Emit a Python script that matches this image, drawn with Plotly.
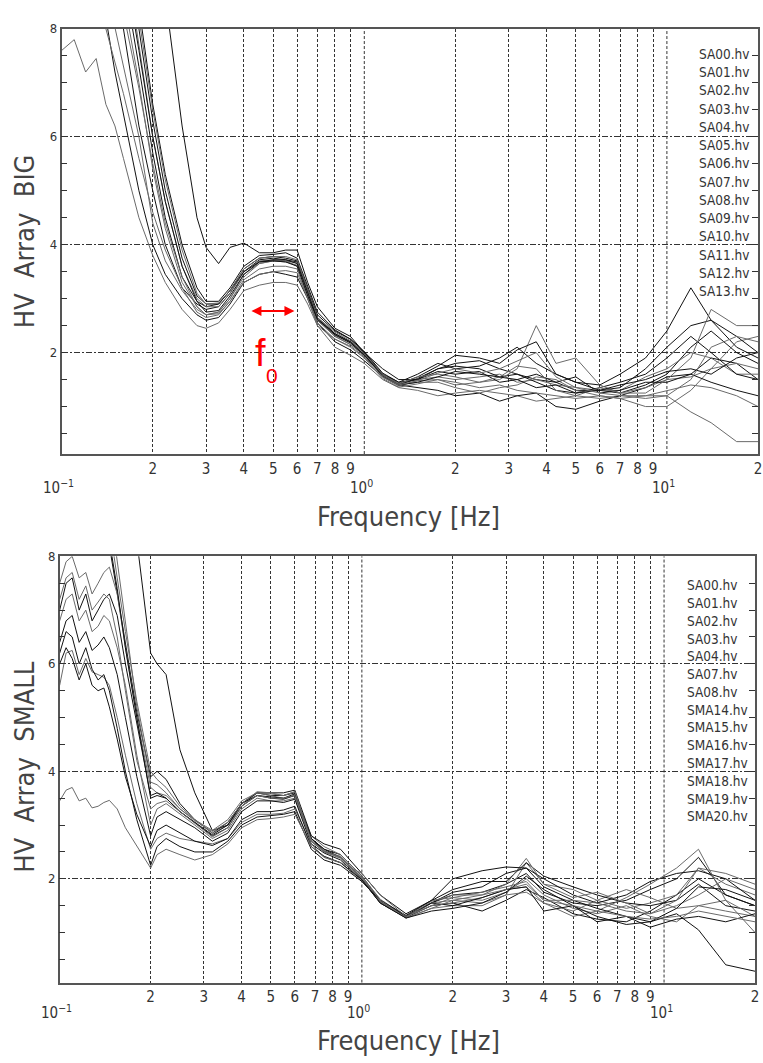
import math
import plotly.graph_objects as go

# ---------------- data: top panel (HV Array BIG) ----------------
FREQ_BIG = [0.1, 0.11, 0.12, 0.13, 0.14, 0.15, 0.16, 0.18, 0.2, 0.22,
            0.25, 0.28, 0.3, 0.33, 0.36, 0.4, 0.45, 0.5, 0.55, 0.6,
            0.65, 0.7, 0.8, 0.9, 1.0, 1.15, 1.3, 1.5, 1.75, 2.0,
            2.4, 2.8, 3.2, 3.7, 4.3, 5.0, 6.0, 7.0, 8.5, 10,
            12, 14, 17, 20]

BIG_SA00 = [14, 14, 14, 13.5, 13, 12.5, 12, 11, 9.8, 8.6,
            6.2, 4.5, 3.95, 3.65, 3.95, 4.03, 3.85, 3.85, 3.9, 3.9,
            3.3, 2.85, 2.45, 2.3, 2.0, 1.7, 1.5, 1.5, 1.7, 1.8,
            1.85, 1.7, 1.6, 1.5, 1.45, 1.3, 1.3, 1.25, 1.4, 1.6,
            2.1, 2.4, 2.0, 1.8]
BIG_SA01 = [7.6, 7.8, 7.2, 7.45, 6.6, 6.2, 5.6, 4.5, 3.8, 3.3,
            2.8, 2.5, 2.45, 2.55, 2.8, 3.15, 3.25, 3.3, 3.3, 3.25,
            2.9, 2.5, 2.1, 1.95, 1.8, 1.5, 1.35, 1.3, 1.2, 1.25,
            1.3, 1.25, 1.2, 1.1, 1.15, 1.2, 1.15, 1.2, 1.2, 1.2,
            0.9, 0.7, 0.35, 0.35]
BIG_SA02 = [12, 11, 10, 9.0, 8.2, 7.2, 6.4, 5.0, 4.0, 3.45,
            3.0, 2.7, 2.6, 2.65, 2.9, 3.3, 3.45, 3.5, 3.45, 3.4,
            3.0, 2.55, 2.2, 2.05, 1.85, 1.55, 1.4, 1.35, 1.3, 1.2,
            1.25, 1.1, 1.2, 1.25, 1.0, 0.95, 1.1, 1.2, 1.35, 1.55,
            1.6, 1.9, 1.8, 1.5]
BIG_SA03 = [12, 11.5, 10.5, 9.6, 8.8, 8.0, 7.3, 6.0, 4.4, 3.7,
            3.15, 2.8, 2.7, 2.75, 3.0, 3.45, 3.65, 3.7, 3.7, 3.6,
            3.05, 2.6, 2.3, 2.15, 1.95, 1.6, 1.42, 1.5, 1.55, 1.5,
            1.55, 1.6, 1.45, 1.5, 1.4, 1.35, 1.3, 1.3, 1.55, 1.7,
            2.0, 1.9, 1.6, 1.6]
BIG_SA04 = [13, 12.5, 11.5, 10.5, 9.6, 8.8, 8.0, 6.2, 5.0, 4.0,
            3.2, 2.9, 2.8, 2.85, 3.1, 3.5, 3.72, 3.75, 3.72, 3.68,
            3.15, 2.65, 2.35, 2.2, 2.0, 1.58, 1.4, 1.52, 1.7, 1.75,
            1.7, 1.55, 1.6, 1.45, 1.3, 1.25, 1.35, 1.45, 1.6, 1.9,
            2.3, 2.0, 1.6, 1.5]
BIG_SA05 = [13, 13, 12, 11, 10.2, 9.4, 8.6, 7.0, 5.4, 4.3,
            3.3, 2.85, 2.7, 2.75, 3.0, 3.4, 3.65, 3.7, 3.68, 3.62,
            3.05, 2.6, 2.32, 2.18, 1.97, 1.55, 1.38, 1.48, 1.5, 1.4,
            1.45, 1.5, 1.7, 2.5, 1.8, 1.9, 1.4, 1.25, 1.35, 1.5,
            1.55, 1.7, 2.2, 2.3]
BIG_SA06 = [14, 13.5, 12.5, 11.5, 10.6, 9.8, 9.0, 7.3, 5.7, 4.5,
            3.4, 2.95, 2.85, 2.9, 3.15, 3.55, 3.75, 3.78, 3.75, 3.7,
            3.2, 2.7, 2.4, 2.25, 2.0, 1.6, 1.42, 1.55, 1.75, 1.95,
            1.9, 1.8, 2.05, 2.2, 1.6, 1.45, 1.3, 1.35, 1.7, 2.1,
            2.5, 2.6, 2.3, 2.0]
BIG_SA07 = [14, 14, 13, 12, 11.2, 10.4, 9.6, 7.7, 6.0, 4.8,
            3.6, 3.0, 2.85, 2.85, 3.1, 3.5, 3.7, 3.72, 3.7, 3.66,
            3.1, 2.6, 2.3, 2.15, 1.95, 1.58, 1.4, 1.45, 1.45, 1.35,
            1.25, 1.35, 1.4, 1.55, 1.5, 1.3, 1.2, 1.15, 1.0, 1.0,
            1.3, 1.7, 1.8, 1.7]
BIG_SA08 = [15, 14.5, 13.5, 12.5, 11.6, 10.8, 10.0, 8.0, 6.3, 5.0,
            3.75, 3.05, 2.9, 2.9, 3.15, 3.5, 3.68, 3.7, 3.68, 3.6,
            3.05, 2.62, 2.35, 2.2, 1.95, 1.6, 1.45, 1.5, 1.65, 1.6,
            1.65, 1.45, 1.5, 1.6, 1.45, 1.55, 1.25, 1.3, 1.45, 1.45,
            1.6, 1.45, 1.3, 1.2]
BIG_SA09 = [11, 10.5, 9.6, 8.8, 8.0, 7.4, 6.8, 5.6, 4.6, 3.9,
            3.2, 2.75, 2.65, 2.7, 2.95, 3.35, 3.55, 3.6, 3.6, 3.55,
            3.0, 2.55, 2.25, 2.1, 1.9, 1.52, 1.36, 1.42, 1.5, 1.45,
            1.35, 1.4, 1.3, 1.25, 1.2, 1.15, 1.2, 1.15, 1.2, 1.3,
            1.4, 1.35, 1.2, 1.0]
BIG_SA10 = [15, 15, 14, 13, 12, 11.2, 10.4, 8.4, 6.6, 5.3,
            4.0, 3.2, 2.95, 2.95, 3.2, 3.6, 3.8, 3.82, 3.85, 3.75,
            3.25, 2.75, 2.42, 2.25, 2.02, 1.62, 1.45, 1.6, 1.8, 1.7,
            1.75, 1.9, 2.1, 1.8, 1.6, 1.45, 1.4, 1.6, 1.9, 2.4,
            3.2, 2.6, 2.1, 1.9]
BIG_SA11 = [14, 13.5, 12.8, 12, 11.3, 10.6, 9.9, 8.2, 6.5, 5.2,
            3.9, 3.1, 2.9, 2.92, 3.15, 3.55, 3.75, 3.78, 3.78, 3.72,
            3.15, 2.65, 2.38, 2.22, 1.98, 1.6, 1.42, 1.55, 1.6, 1.55,
            1.45, 1.55, 1.75, 1.7, 1.3, 1.2, 1.35, 1.25, 1.25, 1.5,
            1.9, 2.8, 2.5, 2.5]
BIG_SA12 = [13.5, 13, 12.3, 11.6, 10.8, 10.0, 9.3, 7.6, 6.0, 4.8,
            3.6, 2.95, 2.75, 2.78, 3.05, 3.45, 3.68, 3.72, 3.72, 3.65,
            3.1, 2.62, 2.33, 2.18, 1.96, 1.56, 1.4, 1.45, 1.55, 1.65,
            1.6, 1.55, 1.5, 1.35, 1.4, 1.25, 1.3, 1.4, 1.5, 1.65,
            1.7, 1.6, 1.9, 2.0]
BIG_SA13 = [12.5, 12, 11.2, 10.5, 9.8, 9.0, 8.3, 6.9, 5.5, 4.4,
            3.4, 2.85, 2.7, 2.72, 2.95, 3.3, 3.45, 3.5, 3.52, 3.48,
            3.0, 2.5, 2.25, 2.12, 1.92, 1.55, 1.4, 1.48, 1.62, 1.7,
            1.62, 1.7, 1.85, 2.0, 1.55, 1.35, 1.25, 1.2, 1.15, 1.2,
            1.5, 2.1, 2.3, 2.2]

NAMES_BIG = ["SA00.hv", "SA01.hv", "SA02.hv", "SA03.hv", "SA04.hv", "SA05.hv", "SA06.hv",
             "SA07.hv", "SA08.hv", "SA09.hv", "SA10.hv", "SA11.hv", "SA12.hv", "SA13.hv"]

# ---------------- data: bottom panel (HV Array SMALL) ----------------
FREQ_SMALL = [0.1, 0.105, 0.11, 0.116, 0.122, 0.128, 0.134, 0.14, 0.146, 0.155,
              0.165, 0.18, 0.2, 0.21, 0.225, 0.25, 0.28, 0.32, 0.36, 0.4,
              0.45, 0.5, 0.55, 0.6, 0.68, 0.75, 0.85, 1.0, 1.15, 1.4,
              1.7, 2.0, 2.5, 3.0, 3.5, 4.0, 5.0, 6.0, 7.5, 9.0,
              11, 13, 16, 20]

SMALL_SA00 = [9.0, 9.5, 9.6, 9.2, 9.4, 9.0, 9.2, 8.8, 8.2, 7.3,
              6.35, 5.1, 3.9, 4.0, 3.85, 3.4, 3.1, 2.85, 3.05, 3.4,
              3.6, 3.55, 3.55, 3.6, 2.75, 2.55, 2.45, 2.05, 1.6, 1.3,
              1.55, 1.7, 1.75, 1.9, 2.1, 1.75, 1.55, 1.5, 1.6, 1.8,
              2.0, 2.4, 1.7, 1.5]
SMALL_SA01 = [7.5, 7.9, 8.0, 7.6, 7.7, 7.3, 7.5, 7.7, 7.8, 7.3,
              6.3, 5.0, 3.7, 3.6, 3.55, 3.3, 3.1, 2.85, 3.0, 3.35,
              3.6, 3.55, 3.5, 3.55, 2.8, 2.6, 2.45, 2.05, 1.62, 1.3,
              1.6, 1.65, 1.6, 1.75, 2.0, 1.7, 1.45, 1.35, 1.5, 1.3,
              1.2, 1.5, 1.6, 1.0]
SMALL_SA02 = [7.0, 7.5, 7.6, 7.0, 7.3, 6.8, 7.0, 7.2, 7.3, 6.9,
              6.0, 4.9, 3.55, 3.6, 3.5, 3.25, 3.05, 2.8, 2.95, 3.35,
              3.55, 3.5, 3.48, 3.55, 2.75, 2.55, 2.4, 2.0, 1.58, 1.28,
              1.5, 1.55, 1.4, 1.6, 1.8, 1.65, 1.35, 1.25, 1.2, 1.4,
              1.7, 2.0, 1.7, 1.5]
SMALL_SA03 = [6.8, 7.2, 7.3, 6.8, 7.0, 6.6, 6.7, 6.9, 6.8, 6.3,
              5.6, 4.3, 3.0, 3.3, 3.4, 3.2, 3.0, 2.75, 2.9, 3.3,
              3.5, 3.45, 3.45, 3.5, 2.7, 2.5, 2.38, 2.0, 1.55, 1.27,
              1.45, 1.5, 1.5, 1.7, 2.3, 1.9, 1.8, 1.6, 1.45, 1.55,
              1.7, 2.2, 1.9, 1.7]
SMALL_SA04 = [6.4, 6.8, 6.9, 6.4, 6.6, 6.25, 6.35, 6.5, 6.3, 5.8,
              5.0, 3.9, 2.8, 3.15, 3.25, 3.1, 2.95, 2.7, 2.85, 3.25,
              3.45, 3.45, 3.42, 3.48, 2.65, 2.48, 2.35, 1.98, 1.55, 1.28,
              1.55, 1.75, 1.85, 2.1, 2.2, 2.0, 1.7, 1.55, 1.7, 1.95,
              2.1, 2.15, 2.0, 1.6]
SMALL_SA07 = [5.6, 6.2, 6.25, 5.8, 6.1, 5.85, 5.8, 5.75, 5.6, 5.0,
              4.3, 3.4, 2.55, 2.75, 2.85, 2.75, 2.7, 2.65, 2.75, 3.05,
              3.2, 3.2, 3.22, 3.3, 2.65, 2.4, 2.3, 1.95, 1.6, 1.3,
              1.5, 1.55, 1.65, 1.8, 1.85, 1.55, 1.4, 1.6, 1.8, 1.65,
              1.45, 1.5, 1.4, 1.3]
SMALL_SA08 = [10, 10.5, 10.6, 10.2, 10.4, 10, 10.1, 10, 9.8, 9.5,
              9.0, 8.3, 6.2, 6.0, 5.8, 4.4, 3.6, 2.9, 3.0, 3.4,
              3.6, 3.6, 3.6, 3.65, 2.8, 2.65, 2.55, 2.1, 1.7, 1.35,
              1.6, 1.8, 1.95, 1.95, 2.3, 2.05, 1.85, 1.7, 1.55, 1.5,
              1.6, 1.9, 1.5, 1.4]
SMALL_SMA14 = [11, 11.5, 11.6, 11.2, 11.4, 11, 10.5, 9.7, 8.6, 7.6,
               6.6, 5.3, 4.0, 3.85, 3.7, 3.35, 3.1, 2.9, 3.1, 3.45,
               3.6, 3.58, 3.55, 3.62, 2.7, 2.5, 2.42, 2.02, 1.58, 1.28,
               1.55, 1.6, 1.55, 1.7, 1.75, 1.55, 1.3, 1.4, 1.65, 1.9,
               2.2, 2.55, 1.6, 1.3]
SMALL_SMA15 = [10, 10.4, 10.5, 10.1, 10.2, 9.9, 9.7, 9.1, 8.3, 7.4,
               6.3, 5.0, 3.5, 3.55, 3.5, 3.25, 3.05, 2.82, 3.0, 3.4,
               3.55, 3.52, 3.5, 3.58, 2.75, 2.52, 2.4, 2.0, 1.6, 1.3,
               1.55, 1.5, 1.65, 1.8, 1.85, 1.4, 1.5, 1.2, 1.3, 1.1,
               1.25, 1.3, 1.2, 1.35]
SMALL_SMA16 = [7.2, 7.6, 7.7, 7.2, 7.45, 7.0, 7.15, 7.3, 7.2, 6.5,
               5.5, 4.2, 3.3, 3.4, 3.45, 3.25, 3.05, 2.78, 2.95, 3.35,
               3.55, 3.5, 3.5, 3.55, 2.7, 2.5, 2.4, 2.0, 1.57, 1.27,
               1.45, 1.6, 1.7, 1.9, 2.38, 1.9, 1.65, 1.75, 1.55, 1.35,
               1.5, 1.7, 2.0, 1.8]
SMALL_SMA17 = [6.2, 6.6, 6.5, 6.0, 6.3, 5.9, 5.7, 5.8, 5.5, 4.8,
               4.0, 3.1, 2.25, 2.6, 2.75, 2.6, 2.5, 2.5, 2.7, 3.0,
               3.15, 3.18, 3.2, 3.25, 2.55, 2.35, 2.25, 1.95, 1.6, 1.32,
               1.6, 2.0, 2.15, 2.22, 2.2, 1.85, 1.6, 1.45, 1.3, 1.2,
               1.35, 1.05, 0.4, 0.28]
SMALL_SMA18 = [12, 12.4, 12.5, 12.1, 12.2, 11.9, 11.2, 10.2, 9.0, 7.9,
               6.8, 5.2, 3.8, 3.75, 3.6, 3.3, 3.08, 2.88, 3.05, 3.4,
               3.62, 3.6, 3.55, 3.62, 2.72, 2.52, 2.4, 2.02, 1.6, 1.28,
               1.58, 1.7, 1.7, 1.8, 1.9, 1.6, 1.6, 1.55, 1.4, 1.35,
               1.6, 2.2, 2.1, 1.9]
SMALL_SMA19 = [6.0, 6.3, 6.1, 5.7, 6.0, 5.6, 5.5, 5.55, 5.2, 4.6,
               3.9, 3.2, 2.6, 2.9, 3.0, 2.85, 2.7, 2.62, 2.75, 3.1,
               3.25, 3.25, 3.28, 3.35, 2.6, 2.42, 2.3, 1.98, 1.55, 1.27,
               1.4, 1.45, 1.55, 1.75, 2.05, 1.8, 1.5, 1.3, 1.15, 1.2,
               1.45, 1.85, 1.8, 1.6]
SMALL_SMA20 = [3.45, 3.65, 3.7, 3.45, 3.5, 3.32, 3.35, 3.42, 3.46, 3.3,
               2.95, 2.6, 2.2, 2.45, 2.55, 2.45, 2.35, 2.45, 2.65, 2.95,
               3.1, 3.12, 3.15, 3.2, 2.6, 2.4, 2.3, 2.1, 1.7, 1.3,
               1.5, 1.65, 1.75, 1.85, 1.95, 1.6, 1.5, 1.4, 1.3, 1.25,
               1.3, 1.4, 1.3, 1.2]

NAMES_SMALL = ["SA00.hv", "SA01.hv", "SA02.hv", "SA03.hv", "SA04.hv", "SA07.hv", "SA08.hv",
               "SMA14.hv", "SMA15.hv", "SMA16.hv", "SMA17.hv", "SMA18.hv", "SMA19.hv", "SMA20.hv"]

# axis tick labels
X_TICKVALS = [0.2, 0.3, 0.4, 0.5, 0.6, 0.7, 0.8, 0.9, 2, 3, 4, 5, 6, 7, 8, 9, 20]
X_TICKTEXT = ["2", "3", "4", "5", "6", "7", "8", "9", "2", "3", "4", "5", "6", "7", "8", "9", "2"]
X_DECADES = [0.1, 1, 10]
X_DECADE_TEXT = ["10<sup>−1</sup>", "10<sup>0</sup>", "10<sup>1</sup>"]
Y_TICKVALS = [2, 4, 6, 8]

SERIES_BIG = [BIG_SA00, BIG_SA01, BIG_SA02, BIG_SA03, BIG_SA04, BIG_SA05, BIG_SA06,
              BIG_SA07, BIG_SA08, BIG_SA09, BIG_SA10, BIG_SA11, BIG_SA12, BIG_SA13]
SERIES_SMALL = [SMALL_SA00, SMALL_SA01, SMALL_SA02, SMALL_SA03, SMALL_SA04, SMALL_SA07, SMALL_SA08,
                SMALL_SMA14, SMALL_SMA15, SMALL_SMA16, SMALL_SMA17, SMALL_SMA18, SMALL_SMA19, SMALL_SMA20]

# ---------------- figure ----------------
W, H = 763, 1063
FONT = "Liberation Sans Narrow, DejaVu Sans Condensed, Arial Narrow, sans-serif"
LINE_COLORS = ["#111111", "#6a6a6a"]
GRID_COLOR = "#333333"

fig = go.Figure()

for i, (nm, ys) in enumerate(zip(NAMES_BIG, SERIES_BIG)):
    fig.add_trace(go.Scatter(x=FREQ_BIG, y=ys, mode="lines", name=nm, showlegend=False,
                             line=dict(color=LINE_COLORS[i % 2], width=1),
                             xaxis="x", yaxis="y"))
for i, (nm, ys) in enumerate(zip(NAMES_SMALL, SERIES_SMALL)):
    fig.add_trace(go.Scatter(x=FREQ_SMALL, y=ys, mode="lines", name=nm, showlegend=False,
                             line=dict(color=LINE_COLORS[i % 2], width=1),
                             xaxis="x2", yaxis="y2"))

# panel pixel boxes (left, top, right, bottom)
TOP_BOX = (62, 22, 762, 450)
BOT_BOX = (60, 553, 759, 982)


def px_dom(box):
    l, t, r, b = box
    return [l / W, r / W], [1 - b / H, 1 - t / H]


def xaxis_cfg(box):
    xd, _ = px_dom(box)
    return dict(type="log", range=[-1, math.log10(20)], domain=xd,
                tickvals=X_TICKVALS, ticktext=X_TICKTEXT, ticks="",
                showgrid=True, gridcolor=GRID_COLOR, gridwidth=1, griddash="3px,2px",
                showline=True, linecolor="#555555", linewidth=1.5, mirror=True,
                zeroline=False, tickfont=dict(family=FONT, size=15, color="#333333"),
                fixedrange=True)


def yaxis_cfg(box, lo):
    _, yd = px_dom(box)
    return dict(range=[lo, 8], domain=yd, tickvals=Y_TICKVALS,
                ticks="inside", ticklen=6, tickcolor="#333333", tickwidth=1,
                showgrid=True, gridcolor=GRID_COLOR, gridwidth=1, griddash="6px,2px,2px,2px",
                showline=True, linecolor="#555555", linewidth=1.5, mirror="ticks",
                minor=dict(dtick=0.5, tick0=0, ticks="inside", ticklen=6,
                           tickcolor="#333333", showgrid=False),
                zeroline=False, tickfont=dict(family=FONT, size=13, color="#333333"),
                fixedrange=True)


fig.update_layout(
    width=W, height=H, autosize=False,
    margin=dict(l=0, r=0, t=0, b=0, pad=0),
    paper_bgcolor="white", plot_bgcolor="white",
    showlegend=False,
    xaxis=dict(anchor="y", **xaxis_cfg(TOP_BOX)),
    yaxis=dict(anchor="x", **yaxis_cfg(TOP_BOX, 0.12)),
    xaxis2=dict(anchor="y2", **xaxis_cfg(BOT_BOX)),
    yaxis2=dict(anchor="x2", **yaxis_cfg(BOT_BOX, 0.07)),
)

# vertical grid lines at the decades 1 and 10 (no tick label there)
shapes = []
for xr, yr in (("x", "y domain"), ("x2", "y2 domain")):
    for fv in (1, 10):
        shapes.append(dict(type="line", xref=xr, yref=yr, x0=fv, x1=fv, y0=0, y1=1,
                           line=dict(color=GRID_COLOR, width=1, dash="3px,2px"), layer="below"))
fig.update_layout(shapes=shapes)

ann = []


def P(xp, yp):
    return xp / W, 1 - yp / H


# decade labels
for box, ypos in ((TOP_BOX, 483), (BOT_BOX, 1012)):
    l, t, r, b = box
    for fv, txt in zip(X_DECADES, X_DECADE_TEXT):
        xp = l + (r - l) * (math.log10(fv) + 1) / (math.log10(20) + 1) - 3
        x, y = P(xp, ypos)
        ann.append(dict(x=x, y=y, xref="paper", yref="paper", text=txt, showarrow=False,
                        xanchor="center", yanchor="middle",
                        font=dict(family=FONT, size=15, color="#333333")))

# x-axis titles
for ypos in (513, 1040):
    x, y = P(411, ypos)
    ann.append(dict(x=x, y=y, xref="paper", yref="paper", text="Frequency [Hz]", showarrow=False,
                    xanchor="center", yanchor="middle",
                    font=dict(family=FONT, size=27, color="#444444")))

# y-axis titles
for txt, ypos in (("HV  Array  BIG", 236), ("HV  Array  SMALL", 765)):
    x, y = P(25, ypos)
    ann.append(dict(x=x, y=y, xref="paper", yref="paper", text=txt, showarrow=False,
                    textangle=-90, xanchor="center", yanchor="middle",
                    font=dict(family=FONT, size=27, color="#444444")))

# station name lists
for names, x0, y0, dy in ((NAMES_BIG, 701, 47, 18.4), (NAMES_SMALL, 689, 582, 17.9)):
    for i, nm in enumerate(names):
        x, y = P(x0, y0 + dy * i)
        ann.append(dict(x=x, y=y, xref="paper", yref="paper", text=nm, showarrow=False,
                        xanchor="left", yanchor="middle",
                        font=dict(family=FONT, size=13.5, color="#333333")))

# f0 marker
x, y = P(296, 306)
ann.append(dict(x=x, y=y, xref="paper", yref="paper", ax=-46, ay=0, text=" ",
                showarrow=True, arrowhead=2, arrowside="end+start", arrowsize=1,
                arrowwidth=2, arrowcolor="#ff0000", standoff=0, startstandoff=0))
x, y = P(262, 348)
ann.append(dict(x=x, y=y, xref="paper", yref="paper", text="f", showarrow=False,
                xanchor="center", yanchor="middle",
                font=dict(family="Liberation Sans, Arial, sans-serif", size=38, color="#ff0000")))
x, y = P(273, 371)
ann.append(dict(x=x, y=y, xref="paper", yref="paper", text="0", showarrow=False,
                xanchor="center", yanchor="middle",
                font=dict(family="Liberation Sans, Arial, sans-serif", size=21, color="#ff0000")))

fig.update_layout(annotations=ann)

fig.write_html("out.html", config={"displayModeBar": False})
